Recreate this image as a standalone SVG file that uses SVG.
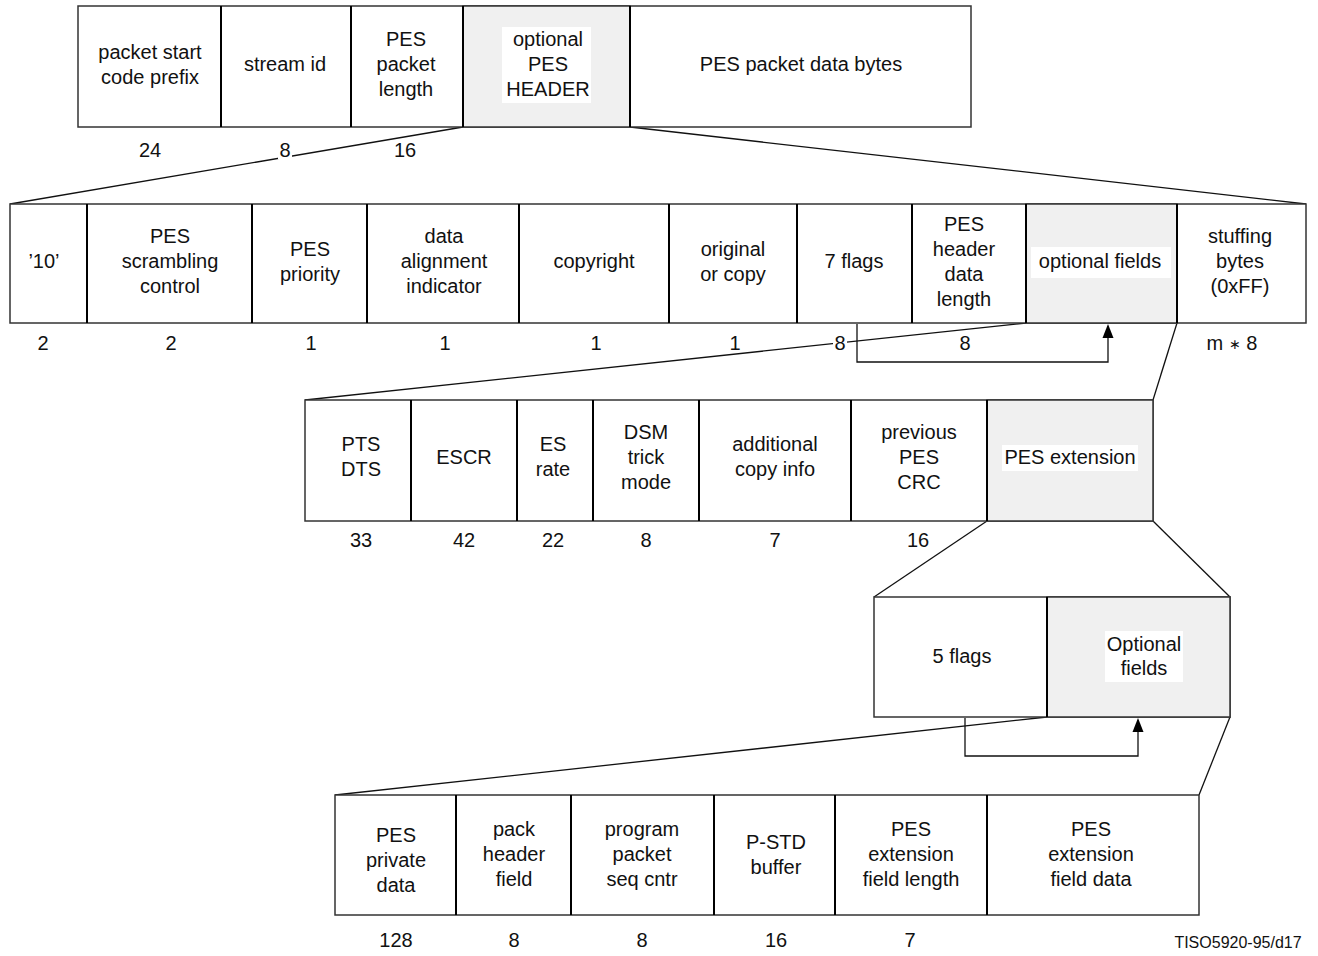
<svg xmlns="http://www.w3.org/2000/svg" width="1318" height="956" viewBox="0 0 1318 956">
<defs>
<style>
text{font-family:"Liberation Sans",Arial,sans-serif;font-size:20px;fill:#111;text-anchor:middle}
.frame{fill:#fff;stroke:#333;stroke-width:1.5}
.opt{fill:#f0f0f0;stroke:#333;stroke-width:1.5}
.div{stroke:#000;stroke-width:2}
.fan{stroke:#111;stroke-width:1.3;fill:none}
.head{fill:#000}
.lbg{fill:#fff}
.num{font-size:20px}
.note{font-size:16px}
.ast{font-size:14px}
</style>
</defs>
<rect width="1318" height="956" fill="#fff"/>

<g id="connectors">
<line class="fan" x1="463" y1="127" x2="10" y2="204"/>
<line class="fan" x1="630" y1="127" x2="1306" y2="204"/>
<line class="fan" x1="1026" y1="323" x2="305" y2="400"/>
<line class="fan" x1="1177" y1="323" x2="1153" y2="400"/>
<line class="fan" x1="987" y1="521" x2="874" y2="597"/>
<line class="fan" x1="1153" y1="521" x2="1230" y2="597"/>
<line class="fan" x1="1047" y1="717" x2="335" y2="795"/>
<line class="fan" x1="1230" y1="717" x2="1199" y2="795"/>
<path class="fan" d="M857,324 V362 H1108 V336"/>
<polygon class="head" points="1108,324 1102.5,338 1113.5,338"/>
<path class="fan" d="M965,718 V756 H1138 V730"/>
<polygon class="head" points="1138,718 1132.5,732 1143.5,732"/>
</g>

<g id="row1">
<rect class="frame" x="78" y="6" width="893" height="121"/>
<rect class="opt" x="463" y="6" width="167" height="121"/>
<line class="div" x1="221" y1="6" x2="221" y2="127"/>
<line class="div" x1="351" y1="6" x2="351" y2="127"/>
<line class="div" x1="463" y1="6" x2="463" y2="127"/>
<line class="div" x1="630" y1="6" x2="630" y2="127"/>
<rect class="lbg" x="502" y="27" width="89" height="76"/>
<text x="150" y="59">packet start</text>
<text x="150" y="84">code prefix</text>
<text x="285" y="71">stream id</text>
<text x="406" y="46">PES</text>
<text x="406" y="71">packet</text>
<text x="406" y="96">length</text>
<text x="548" y="46">optional</text>
<text x="548" y="71">PES</text>
<text x="548" y="96">HEADER</text>
<text x="801" y="71">PES packet data bytes</text>
<text class="num" x="150" y="157">24</text>
<rect class="lbg" x="278" y="140" width="14" height="19"/>
<text class="num" x="285" y="157">8</text>
<text class="num" x="405" y="157">16</text>
</g>

<g id="row2">
<rect class="frame" x="10" y="204" width="1296" height="119"/>
<rect class="opt" x="1026" y="204" width="151" height="119"/>
<line class="div" x1="87" y1="204" x2="87" y2="323"/>
<line class="div" x1="252" y1="204" x2="252" y2="323"/>
<line class="div" x1="367" y1="204" x2="367" y2="323"/>
<line class="div" x1="519" y1="204" x2="519" y2="323"/>
<line class="div" x1="669" y1="204" x2="669" y2="323"/>
<line class="div" x1="797" y1="204" x2="797" y2="323"/>
<line class="div" x1="912" y1="204" x2="912" y2="323"/>
<line class="div" x1="1026" y1="204" x2="1026" y2="323"/>
<line class="div" x1="1177" y1="204" x2="1177" y2="323"/>
<rect class="lbg" x="1031" y="247" width="140" height="31"/>
<text x="44" y="268">’10’</text>
<text x="170" y="243">PES</text>
<text x="170" y="268">scrambling</text>
<text x="170" y="293">control</text>
<text x="310" y="256">PES</text>
<text x="310" y="281">priority</text>
<text x="444" y="243">data</text>
<text x="444" y="268">alignment</text>
<text x="444" y="293">indicator</text>
<text x="594" y="268">copyright</text>
<text x="733" y="256">original</text>
<text x="733" y="281">or copy</text>
<text x="854" y="268">7 flags</text>
<text x="964" y="231">PES</text>
<text x="964" y="256">header</text>
<text x="964" y="281">data</text>
<text x="964" y="306">length</text>
<text x="1100" y="268">optional fields</text>
<text x="1240" y="243">stuffing</text>
<text x="1240" y="268">bytes</text>
<text x="1240" y="293">(0xFF)</text>
<text class="num" x="43" y="350">2</text>
<text class="num" x="171" y="350">2</text>
<text class="num" x="311" y="350">1</text>
<text class="num" x="445" y="350">1</text>
<text class="num" x="596" y="350">1</text>
<text class="num" x="735" y="350">1</text>
<rect class="lbg" x="833" y="333" width="14" height="19"/>
<text class="num" x="840" y="350">8</text>
<text class="num" x="965" y="350">8</text>
<text class="num" x="1232" y="350">m <tspan class="ast" dy="-1">∗</tspan><tspan dy="1"> 8</tspan></text>
</g>

<g id="row3">
<rect class="frame" x="305" y="400" width="848" height="121"/>
<rect class="opt" x="987" y="400" width="166" height="121"/>
<line class="div" x1="411" y1="400" x2="411" y2="521"/>
<line class="div" x1="517" y1="400" x2="517" y2="521"/>
<line class="div" x1="593" y1="400" x2="593" y2="521"/>
<line class="div" x1="699" y1="400" x2="699" y2="521"/>
<line class="div" x1="851" y1="400" x2="851" y2="521"/>
<line class="div" x1="987" y1="400" x2="987" y2="521"/>
<rect class="lbg" x="1002" y="445" width="136" height="26"/>
<text x="361" y="451">PTS</text>
<text x="361" y="476">DTS</text>
<text x="464" y="464">ESCR</text>
<text x="553" y="451">ES</text>
<text x="553" y="476">rate</text>
<text x="646" y="439">DSM</text>
<text x="646" y="464">trick</text>
<text x="646" y="489">mode</text>
<text x="775" y="451">additional</text>
<text x="775" y="476">copy info</text>
<text x="919" y="439">previous</text>
<text x="919" y="464">PES</text>
<text x="919" y="489">CRC</text>
<text x="1070" y="464">PES extension</text>
<text class="num" x="361" y="547">33</text>
<text class="num" x="464" y="547">42</text>
<text class="num" x="553" y="547">22</text>
<text class="num" x="646" y="547">8</text>
<text class="num" x="775" y="547">7</text>
<text class="num" x="918" y="547">16</text>
</g>

<g id="row4">
<rect class="frame" x="874" y="597" width="356" height="120"/>
<rect class="opt" x="1047" y="597" width="183" height="120"/>
<line class="div" x1="1047" y1="597" x2="1047" y2="717"/>
<rect class="lbg" x="1105" y="631" width="78" height="51"/>
<text x="962" y="663">5 flags</text>
<text x="1144" y="651">Optional</text>
<text x="1144" y="675">fields</text>
</g>

<g id="row5">
<rect class="frame" x="335" y="795" width="864" height="120"/>
<line class="div" x1="456" y1="795" x2="456" y2="915"/>
<line class="div" x1="571" y1="795" x2="571" y2="915"/>
<line class="div" x1="714" y1="795" x2="714" y2="915"/>
<line class="div" x1="835" y1="795" x2="835" y2="915"/>
<line class="div" x1="987" y1="795" x2="987" y2="915"/>
<text x="396" y="842">PES</text>
<text x="396" y="867">private</text>
<text x="396" y="892">data</text>
<text x="514" y="836">pack</text>
<text x="514" y="861">header</text>
<text x="514" y="886">field</text>
<text x="642" y="836">program</text>
<text x="642" y="861">packet</text>
<text x="642" y="886">seq cntr</text>
<text x="776" y="849">P-STD</text>
<text x="776" y="874">buffer</text>
<text x="911" y="836">PES</text>
<text x="911" y="861">extension</text>
<text x="911" y="886">field length</text>
<text x="1091" y="836">PES</text>
<text x="1091" y="861">extension</text>
<text x="1091" y="886">field data</text>
<text class="num" x="396" y="947">128</text>
<text class="num" x="514" y="947">8</text>
<text class="num" x="642" y="947">8</text>
<text class="num" x="776" y="947">16</text>
<text class="num" x="910" y="947">7</text>
<text class="note" x="1238" y="948">TISO5920-95/d17</text>
</g>
</svg>
